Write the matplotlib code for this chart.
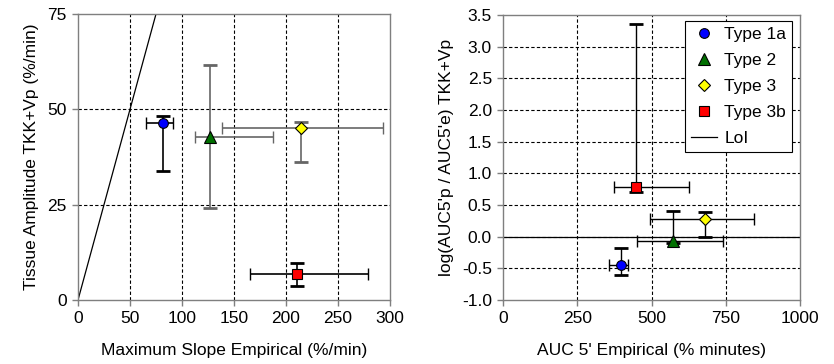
import matplotlib.pyplot as plt
from matplotlib.lines import Line2D

plt.rcParams['font.family'] = ['Liberation Sans', 'DejaVu Sans']
plt.rcParams['font.size'] = 12.5

types = ['Type 1a', 'Type 2', 'Type 3', 'Type 3b']
markers = ['o', '^', 'D', 's']
colors = ['#0000ff', '#007000', '#ffff00', '#ff0000']
msizes = [7, 8, 6, 7]

# left panel: max slope empirical vs tissue amplitude
slope = [81.8, 127.4, 214.3, 210.8]
slope_lo = [65.1, 112.3, 138.0, 165.2]
slope_hi = [91.4, 187.1, 293.6, 278.5]
amp = [46.4, 42.7, 45.1, 6.8]
amp_lo = [33.7, 24.2, 36.3, 3.7]
amp_hi = [48.3, 61.5, 46.8, 9.6]
bar_col_left = ['black', '#666666', '#666666', 'black']

# right panel: AUC 5' empirical vs log ratio
auc = [398.9, 570.8, 679.8, 447.2]
auc_lo = [357, 451.7, 496.6, 374]
auc_hi = [421, 741.6, 846, 627]
logr = [-0.447, -0.063, 0.274, 0.779]
logr_lo = [-0.605, -0.1, -0.01, 0.7]
logr_hi = [-0.184, 0.405, 0.389, 3.358]

loi_left = [0, 75]

fig = plt.figure(figsize=(8.34, 3.64), dpi=100)
ax1 = fig.add_axes([78/834, 64/364, 312/834, 286/364])
ax2 = fig.add_axes([503/834, 64/364, 297/834, 285/364])

grid_kw = dict(color='black', linestyle=(0, (3, 2)), linewidth=0.8)


def style(ax):
    for s in ax.spines.values():
        s.set_color('#7f7f7f')
        s.set_linewidth(1.0)
    ax.tick_params(direction='out', length=4, color='#7f7f7f', width=1, pad=4)


# left
ax1.plot(loi_left, loi_left, color='black', lw=0.9, zorder=2)
for i in range(4):
    ax1.errorbar(slope[i], amp[i], xerr=[[slope[i]-slope_lo[i]], [slope_hi[i]-slope[i]]],
                 fmt='none', ecolor=bar_col_left[i], elinewidth=1.2, capsize=4, capthick=1, zorder=3)
    ax1.errorbar(slope[i], amp[i], yerr=[[amp[i]-amp_lo[i]], [amp_hi[i]-amp[i]]],
                 fmt='none', ecolor=bar_col_left[i], elinewidth=1.2, capsize=5, capthick=2, zorder=3)
    ax1.plot(slope[i], amp[i], marker=markers[i], color=colors[i], mec='black', mew=0.8,
             ms=msizes[i], ls='none', zorder=4)
ax1.set_xlim(0, 300)
ax1.set_ylim(0, 75)
ax1.set_xticks([0, 50, 100, 150, 200, 250, 300])
ax1.set_yticks([0, 25, 50, 75])
for v in [50, 100, 150, 200, 250]:
    ax1.axvline(v, zorder=1, **grid_kw)
for v in [25, 50]:
    ax1.axhline(v, zorder=1, **grid_kw)
ax1.set_xlabel('Maximum Slope Empirical (%/min)', labelpad=12)
ax1.set_ylabel('Tissue Amplitude TKK+Vp (%/min)', labelpad=6)
style(ax1)

# right
ax2.axhline(0, color='black', lw=0.9, zorder=2)
for i in range(4):
    ax2.errorbar(auc[i], logr[i], xerr=[[auc[i]-auc_lo[i]], [auc_hi[i]-auc[i]]],
                 fmt='none', ecolor='black', elinewidth=1.0, capsize=4, capthick=1, zorder=3)
    ax2.errorbar(auc[i], logr[i], yerr=[[logr[i]-logr_lo[i]], [logr_hi[i]-logr[i]]],
                 fmt='none', ecolor='black', elinewidth=1.0, capsize=5, capthick=2, zorder=3)
    ax2.plot(auc[i], logr[i], marker=markers[i], color=colors[i], mec='black', mew=0.8,
             ms=msizes[i], ls='none', zorder=4)
ax2.set_xlim(0, 1000)
ax2.set_ylim(-1.0, 3.5)
ax2.set_xticks([0, 250, 500, 750, 1000])
yt = [-1.0, -0.5, 0.0, 0.5, 1.0, 1.5, 2.0, 2.5, 3.0, 3.5]
ax2.set_yticks(yt)
ax2.set_yticklabels([f'{v:.1f}' for v in yt])
for v in [250, 500, 750]:
    ax2.axvline(v, zorder=1, **grid_kw)
for v in yt[1:-1]:
    ax2.axhline(v, zorder=1, **grid_kw)
ax2.set_xlabel("AUC 5' Empirical (% minutes)", labelpad=12)
ax2.set_ylabel("log(AUC5'p / AUC5'e) TKK+Vp", labelpad=6)
style(ax2)

handles = [Line2D([], [], marker=markers[i], color=colors[i], mec='black', mew=0.8,
                  ms=msizes[i], ls='none') for i in range(4)]
handles.append(Line2D([], [], color='black', lw=0.9))
leg = ax2.legend(handles, types + ['LoI'], loc='upper right', bbox_to_anchor=(0.98, 0.985),
                 borderaxespad=0.1, fancybox=False, edgecolor='black', framealpha=1,
                 borderpad=0.35, handlelength=1.5, handletextpad=0.4, labelspacing=0.62,
                 fontsize=12.5)
leg.get_frame().set_linewidth(0.8)
leg.set_zorder(5)

fig.savefig('out.png', dpi=100)
